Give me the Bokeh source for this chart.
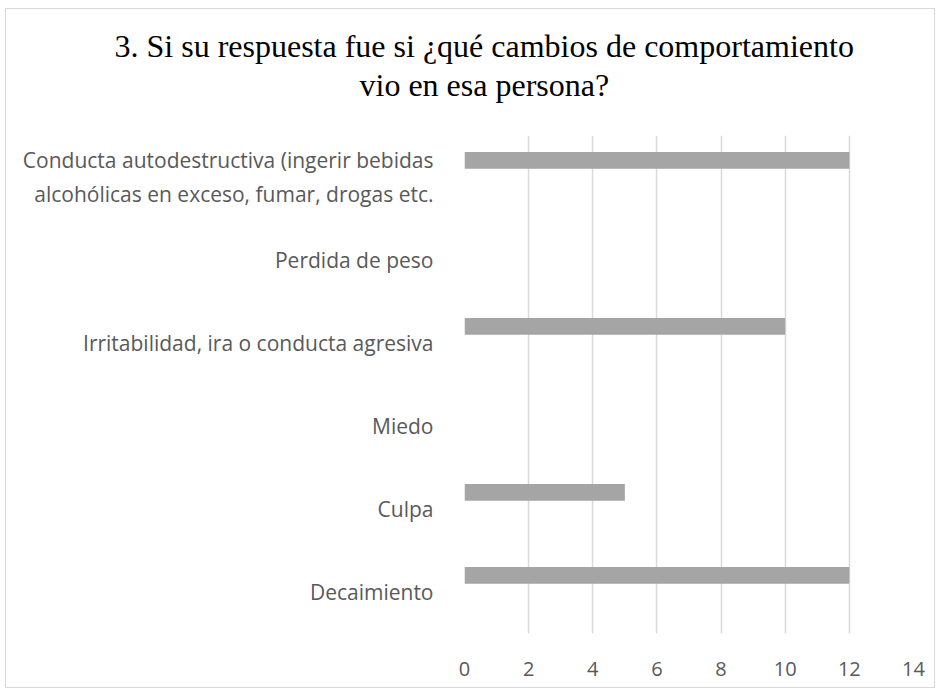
from bokeh.plotting import figure
from bokeh.models import Title, FactorRange
from bokeh.transform import dodge
from bokeh.embed import file_html
from bokeh.resources import INLINE

categories = [
    "Decaimiento",
    "Culpa",
    "Miedo",
    "Irritabilidad, ira o conducta agresiva",
    "Perdida de peso",
    "Conducta autodestructiva (ingerir bebidas\nalcohólicas en exceso, fumar, drogas etc.",
]
values = [12, 5, 0, 10, 0, 12]
x_ticks = [0, 2, 4, 6, 8, 10, 12, 14]
title_lines = ["3. Si su respuesta fue si ¿qué cambios de comportamiento", "vio en esa persona?"]

p = figure(width=930, height=680, y_range=FactorRange(*categories, range_padding=0),
           x_range=(0, 14), output_backend="svg", toolbar_location=None,
           min_border_left=458, min_border_right=23, min_border_top=126, min_border_bottom=56)

p.hbar(y=dodge("cat", 0.2, range=p.y_range), right="val", left=0, height=0.2,
       source=dict(cat=categories, val=values), fill_color="#a5a5a5", line_color=None)

# blank spacer between the title and the plot area
p.add_layout(Title(text=" ", standoff=0, text_font="Liberation Serif",
                   text_font_size="28px"), "above")
# line 2 first (closest to plot), then line 1 above it
for txt, off, so in ((title_lines[1], -105, 0), (title_lines[0], -350, 1)):
    p.add_layout(Title(text=txt, align="left", offset=off, standoff=so,
                       text_font="Liberation Serif", text_font_size="32px",
                       text_font_style="normal", text_color="#000000"), "above")

p.title.visible = False
p.xaxis.ticker = x_ticks
for ax in (p.xaxis[0], p.yaxis[0]):
    ax.axis_line_color = None
    ax.major_tick_line_color = None
    ax.minor_tick_line_color = None
    ax.major_label_text_font = "Open Sans"
    ax.major_label_text_color = "#595959"
p.xaxis.major_label_text_font_size = "20px"
p.yaxis.major_label_text_font_size = "21px"
p.xaxis.major_label_standoff = 22
p.yaxis.major_label_standoff = 25

p.ygrid.grid_line_color = None
p.xgrid.grid_line_color = "#d9d9d9"
p.xgrid.grid_line_width = 1.5
p.outline_line_color = None
p.styles = {"border": "1px solid #d9d9d9", "margin-left": "5px", "margin-top": "8px"}

open("out.html", "w").write(file_html(p, INLINE))
